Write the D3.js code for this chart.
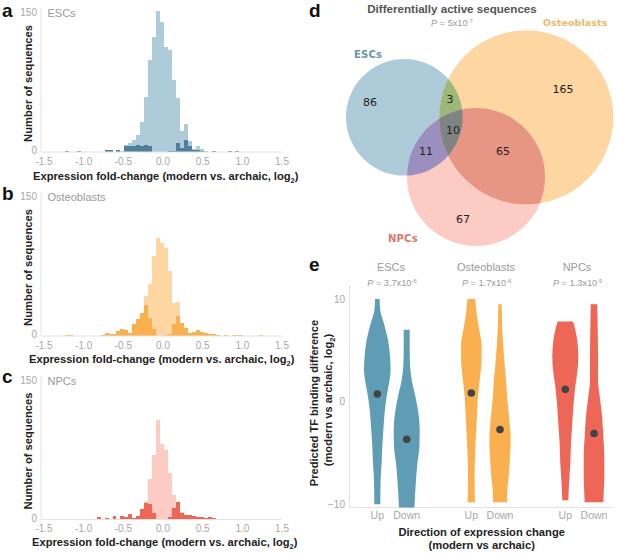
<!DOCTYPE html>
<html>
<head>
<meta charset="utf-8">
<script src="https://cdn.jsdelivr.net/npm/d3@7"></script>
<style>
html, body { margin: 0; padding: 0; background: #fff; }
svg { display: block; }
text { font-family: "Liberation Sans", Arial, sans-serif; }
</style>
</head>
<body>
<script>
// histogram counts, one number per 0.05 wide bin starting at -1.53
const esc_all = [
  0,0,0,0,0,0,1,0,0,1,
  0,0,0,0,0,0,2,2,0,2,
  1,7,9,13,18,32,59,100,124,153,
  141,114,110,78,58,22,30,11,3,6,
  3,1,0,1,0,0,0,1,0,1,
  0,0,0,0,0,0,0,0,0,0]
const esc_active = [
  0,0,0,0,0,0,1,0,0,1,
  0,0,0,0,0,0,2,2,0,2,
  0,6,6,6,7,6,7,6,0,0,
  0,0,1,1,9,4,12,6,2,2,
  1,0,0,1,0,0,0,1,0,1,
  0,0,0,0,0,0,0,0,0,0]
const ost_all = [
  0,0,0,0,0,0,1,1,0,0,
  0,0,0,0,0,1,3,2,2,5,
  7,6,3,12,18,24,43,56,86,106,
  101,95,70,35,36,13,8,3,4,6,
  4,3,2,2,1,0,1,0,1,1,
  1,0,0,0,0,1,0,0,0,0]
const ost_active = [
  0,0,0,0,0,0,1,1,0,0,
  0,0,0,0,0,1,3,2,2,5,
  7,6,3,12,18,24,33,19,7,0,
  0,1,2,13,21,14,8,3,4,6,
  4,3,2,2,1,0,1,0,1,1,
  1,0,0,0,0,1,0,0,0,0]
const npc_all = [
  0,0,0,0,0,0,0,0,0,0,
  0,0,0,0,2,0,1,0,3,0,
  3,2,5,1,3,11,20,43,70,108,
  82,75,50,26,18,8,4,4,3,2,
  2,1,2,1,0,0,0,0,0,0,
  0,0,0,0,0,0,0,0,0,0]
const npc_active = [
  0,0,0,0,0,0,0,0,0,0,
  0,0,0,0,2,0,1,0,3,0,
  3,2,5,1,3,11,17,16,7,0,
  0,0,2,12,18,7,4,4,3,2,
  2,1,2,1,0,0,0,0,0,0,
  0,0,0,0,0,0,0,0,0,0]
const fold_ticks = [-1.5, -1, -0.5, 0, 0.5, 1, 1.5]

// venn counts
const venn_counts = [86, 165, 67, 3, 11, 65, 10]

// violins: [tf binding difference, density]
const esc_up = [[10,2.3],[8.9,2.9],[7.6,6.7],[6,10.7],[4.4,12.7],[3.1,13.3],[1.8,11.7],[0.5,9.3],[-1.1,7.3],[-2.8,6],[-4.4,5],[-6,4.3],[-7.6,3.3],[-10,3]]
const esc_down = [[7,3],[5.4,3],[3.7,3.3],[2.1,5],[0.5,8.7],[-1.1,11.7],[-2.8,13],[-4.4,12.7],[-6,10.7],[-7.6,9.3],[-9.2,8.3],[-10.3,7.7]]
const ost_up = [[10,4],[8.8,5],[6.8,8.3],[5.5,10.3],[4.2,10.3],[2.6,9],[0.6,6.7],[-1.3,5.7],[-3.2,4.7],[-5.2,3.7],[-7.1,3.3],[-9.1,3.5],[-9.8,3.7]]
const ost_down = [[9.5,1.7],[7,2.3],[4.4,4],[2.1,6],[-0.2,7.7],[-2.1,9.7],[-3.7,10.7],[-5.3,10],[-7.3,8.7],[-8.6,7.3],[-9.8,7]]
const npc_up = [[7.8,7.7],[7,10],[5.7,12.3],[4.4,13],[3.1,12.3],[1.5,10],[-0.2,8.3],[-2.1,7],[-4,5.7],[-6,5],[-8,3.7],[-9.6,3]]
const npc_down = [[9.5,3.3],[7,3.7],[4.4,4],[2.1,4],[0.5,5.7],[-1.4,8],[-3.4,9.3],[-5.3,10.3],[-7.3,10.3],[-8.9,9.7],[-9.8,9.3]]
const violin_means = [0.75, -3.66, 0.84, -2.72, 1.2, -3.11]
const cell_names = ['ESCs', 'Osteoblasts', 'NPCs']
const cell_p = ['3.7x10', '1.7x10', '1.3x10']
const cell_p_exp = ['-6', '-6', '-5']
const direction_names = ['Up', 'Down']

const grey_tick = '#a8a8a8'
const grey_head = '#9a9a9a'
const axis_col = '#e2e2e2'

let svg = d3.select('body').append('svg').attr('width', 617).attr('height', 554)

function panel_letter(s, x, y){
  svg.append('text').attr('x', x).attr('y', y).text(s)
    .style('font-size', '19px').style('font-weight', 'bold').style('fill', '#111')
}

//histogram panels a, b, c
let x_fold = d3.scaleLinear().domain([-1.5, 1.5]).range([43.5, 281.5])
const bin_w = 0.05
const bin_start = -1.53

function histogram(all, active, base, name, light, dark, title_x, title_y){
  let y = d3.scaleLinear().domain([0, 150]).range([base, base - 138])
  let g = svg.append('g')

  g.selectAll('rect.all').data(all).join('rect').attr('class', 'all')
    .attr('x', (d, i) => x_fold(bin_start + i * bin_w))
    .attr('width', x_fold(bin_w) - x_fold(0))
    .attr('y', d => y(d))
    .attr('height', d => base - y(d))
    .attr('shape-rendering', 'crispEdges')
    .style('fill', light)
  g.selectAll('rect.active').data(active).join('rect').attr('class', 'active')
    .attr('x', (d, i) => x_fold(bin_start + i * bin_w))
    .attr('width', x_fold(bin_w) - x_fold(0))
    .attr('y', d => y(d))
    .attr('height', d => base - y(d))
    .attr('shape-rendering', 'crispEdges')
    .style('fill', dark)

  //axis lines
  g.append('line').attr('x1', 41).attr('x2', 281.5).attr('y1', base + 0.5).attr('y2', base + 0.5)
    .style('stroke', axis_col)
  g.append('line').attr('x1', 41).attr('x2', 41).attr('y1', base).attr('y2', base - 143)
    .style('stroke', axis_col)

  let ax = g.append('g').attr('transform', `translate(0,${base + 6})`)
    .call(d3.axisBottom(x_fold).tickValues(fold_ticks).tickSize(0).tickFormat(d3.format('.1f')))
  ax.select('.domain').remove()
  ax.selectAll('text').attr('y', 0).attr('dy', '0.72em')
    .style('font-size', '10px').style('fill', grey_tick).style('font-family', '"Liberation Sans"')
    .text(d => d3.format('.1f')(d).replace('−', '-'))

  let ay = g.append('g').attr('transform', 'translate(37,0)')
    .call(d3.axisLeft(y).tickValues([0, 150]).tickSize(0))
  ay.select('.domain').remove()
  ay.selectAll('text').attr('x', 0).attr('dy', '0.2em')
    .style('font-size', '10px').style('fill', grey_tick).style('font-family', '"Liberation Sans"')

  g.append('text').attr('x', 47.5).attr('y', base - 134.5).text(name)
    .style('font-size', '11px').style('fill', grey_head)

  g.append('text').attr('transform', `translate(32,${base - 68}) rotate(-90)`)
    .attr('text-anchor', 'middle').text('Number of sequences')
    .style('font-size', '11.2px').style('font-weight', 'bold').style('fill', '#222')

  let t = g.append('text').attr('x', title_x).attr('y', title_y)
    .style('font-size', '11.15px').style('font-weight', 'bold').style('fill', '#222')
  t.append('tspan').text('Expression fold-change (modern vs. archaic, log')
  t.append('tspan').attr('dy', 3).style('font-size', '7.5px').text('2')
  t.append('tspan').attr('dy', -3).text(')')
}

histogram(esc_all, esc_active, 151.5, 'ESCs', '#aecbda', '#4f7f9b', 33, 180)
histogram(ost_all, ost_active, 335.5, 'Osteoblasts', '#fdd6a2', '#fbb050', 29, 363)
histogram(npc_all, npc_active, 519, 'NPCs', '#fccbc4', '#ee6656', 32, 546)

panel_letter('a', 2, 17)
panel_letter('b', 2, 200)
panel_letter('c', 2, 383)
panel_letter('d', 309, 17)
panel_letter('e', 309, 271)

//venn, panel d
let defs = svg.append('defs')
const venn_circles = [
  {id: 'c_esc', cx: 404.3, cy: 117.3, r: 58.3, fill: '#aecbda'},
  {id: 'c_ost', cx: 526.3, cy: 117.3, r: 87, fill: '#fdd6a2'},
  {id: 'c_npc', cx: 476, cy: 177, r: 69, fill: '#fccbc4'}
]
defs.selectAll('clipPath').data(venn_circles).join('clipPath').attr('id', d => d.id)
  .append('circle').attr('cx', d => d.cx).attr('cy', d => d.cy).attr('r', d => d.r)

svg.selectAll('circle.set').data(venn_circles).join('circle').attr('class', 'set')
  .attr('cx', d => d.cx).attr('cy', d => d.cy).attr('r', d => d.r)
  .style('fill', d => d.fill)

function overlap(c, clip1, clip2, fill){
  let g = svg.append('g').attr('clip-path', `url(#${clip1})`)
  if (clip2) g = g.append('g').attr('clip-path', `url(#${clip2})`)
  g.append('circle').attr('cx', c.cx).attr('cy', c.cy).attr('r', c.r).style('fill', fill)
}
overlap(venn_circles[1], 'c_esc', null, '#9db878')
overlap(venn_circles[2], 'c_esc', null, '#9b8fc0')
overlap(venn_circles[2], 'c_ost', null, '#e79683')
overlap(venn_circles[2], 'c_esc', 'c_ost', '#7e8484')

const venn_label_x = [370, 563, 463, 450, 426, 503, 453]
const venn_label_y = [102, 89, 219, 99, 151, 151, 130]
svg.selectAll('text.count').data(venn_counts).join('text').attr('class', 'count')
  .attr('x', (d, i) => venn_label_x[i]).attr('y', (d, i) => venn_label_y[i])
  .attr('dy', '0.36em').attr('text-anchor', 'middle').text(d => d)
  .style('font-family', '"DejaVu Sans"').style('font-size', '11px').style('fill', '#222')

svg.append('text').attr('x', 452).attr('y', 12.5).attr('text-anchor', 'middle')
  .text('Differentially active sequences')
  .style('font-size', '11.6px').style('font-weight', 'bold').style('fill', '#555')

function p_label(x, y, val, exp){
  let t = svg.append('text').attr('x', x).attr('y', y).attr('text-anchor', 'middle')
    .style('font-size', '9.2px').style('fill', grey_head)
  t.append('tspan').style('font-style', 'italic').text('P')
  t.append('tspan').text(' = ' + val)
  t.append('tspan').attr('dy', -3).style('font-size', '6px').text(exp)
}
p_label(452, 25.5, '5x10', '-7')

function venn_name(s, x, y, col, size){
  svg.append('text').attr('x', x).attr('y', y).text(s)
    .style('font-family', '"DejaVu Sans"').style('font-size', size + 'px').style('font-weight', 'bold')
    .style('letter-spacing', '0.2px').style('fill', col)
}
venn_name('Osteoblasts', 543, 26, '#f2b763', 9.3)
venn_name('ESCs', 354, 58, '#6b94ac', 10)
venn_name('NPCs', 388, 242, '#d9786b', 10)

//violins, panel e
let y_tf = d3.scaleLinear().domain([-10, 10]).range([504.3, 299])
let w_density = d3.scaleLinear().domain([0, 14]).range([0, 14])
const violin_x = [377.3, 406.7, 471.3, 500, 565.3, 594]
const violin_col = ['#5f9db5', '#5f9db5', '#fbb050', '#fbb050', '#ee6656', '#ee6656']
const header_x = [391, 486, 577]
const p_x = [392, 486.7, 577.7]
const violins = [esc_up, esc_down, ost_up, ost_down, npc_up, npc_down]

svg.append('line').attr('x1', 349.5).attr('x2', 349.5).attr('y1', 285).attr('y2', 507.5).style('stroke', axis_col)
svg.append('line').attr('x1', 349.5).attr('x2', 613).attr('y1', 507.5).attr('y2', 507.5).style('stroke', axis_col)

violins.forEach(function(v, i){
  let cx = violin_x[i]
  let area = d3.area()
    .y(d => y_tf(d[0]))
    .x0(d => cx - w_density(d[1]))
    .x1(d => cx + w_density(d[1]))
    .curve(d3.curveMonotoneY)
  svg.append('path').datum(v).attr('d', area).style('fill', violin_col[i])
  svg.append('circle').attr('cx', cx).attr('cy', y_tf(violin_means[i])).attr('r', 3.8).style('fill', '#444')
  svg.append('text').attr('x', cx).attr('y', 515).attr('dy', '0.36em').attr('text-anchor', 'middle')
    .text(direction_names[i % 2]).style('font-size', '10.5px').style('fill', grey_tick)
})

let ay_e = svg.append('g').attr('transform', 'translate(345,0)')
  .call(d3.axisLeft(y_tf).tickValues([-10, 0, 10]).tickSize(0).tickFormat(d3.format('d')))
ay_e.select('.domain').remove()
ay_e.selectAll('text').attr('x', 0)
  .style('font-size', '10px').style('fill', grey_tick).style('font-family', '"Liberation Sans"')

cell_names.forEach(function(name, i){
  svg.append('text').attr('x', header_x[i]).attr('y', 270.5).attr('text-anchor', 'middle').text(name)
    .style('font-size', '11px').style('fill', grey_head)
  p_label(p_x[i], 285.5, cell_p[i], cell_p_exp[i])
})

svg.append('text').attr('x', 481.7).attr('y', 536).attr('text-anchor', 'middle')
  .text('Direction of expression change')
  .style('font-size', '11.2px').style('font-weight', 'bold').style('fill', '#222')
svg.append('text').attr('x', 481.7).attr('y', 549).attr('text-anchor', 'middle')
  .text('(modern vs archaic)')
  .style('font-size', '11.2px').style('font-weight', 'bold').style('fill', '#222')

svg.append('text').attr('transform', 'translate(318,403) rotate(-90)').attr('text-anchor', 'middle')
  .text('Predicted TF binding difference')
  .style('font-size', '11.1px').style('font-weight', 'bold').style('fill', '#222')
let yt2 = svg.append('text').attr('transform', 'translate(332,400) rotate(-90)').attr('text-anchor', 'middle')
  .style('font-size', '11.1px').style('font-weight', 'bold').style('fill', '#222')
yt2.append('tspan').text('(modern vs archaic, log')
yt2.append('tspan').attr('dy', 3).style('font-size', '7.5px').text('2')
yt2.append('tspan').attr('dy', -3).text(')')
</script>
</body>
</html>
